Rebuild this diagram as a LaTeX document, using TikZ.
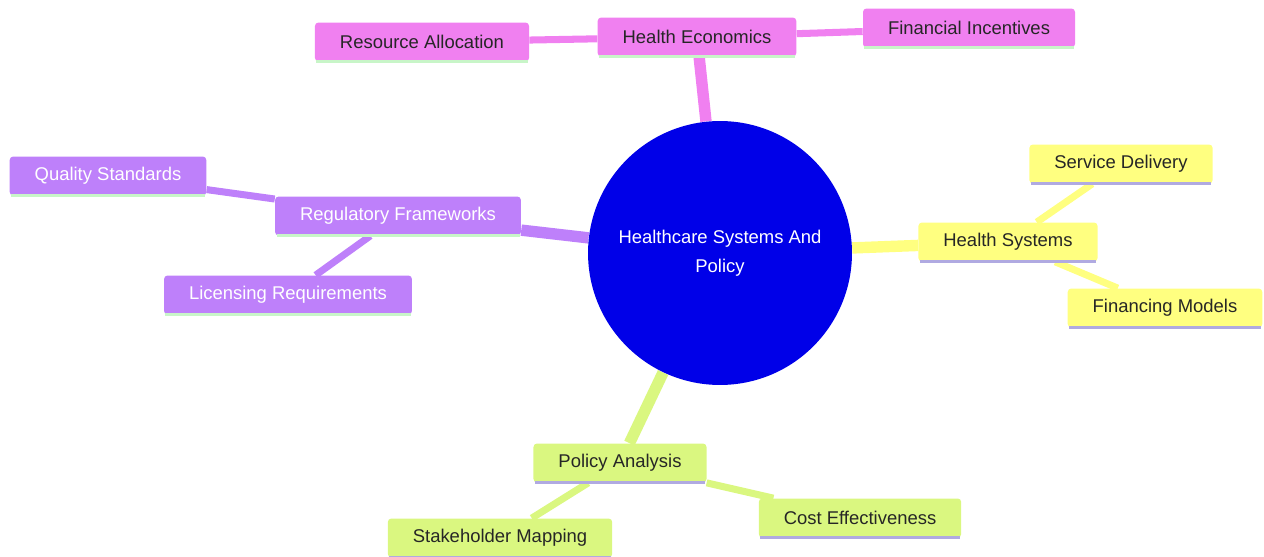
\documentclass[tikz,border=0pt]{standalone}
\usepackage{fontspec}
\setmainfont{Liberation Sans}
\usepackage{xcolor}
\usepackage{tikz}
\usetikzlibrary{backgrounds}
\definecolor{econpink}{RGB}{240,128,240}
\definecolor{regpurple}{RGB}{190,128,250}
\definecolor{sysyellow}{RGB}{255,255,128}
\definecolor{policygreen}{RGB}{218,247,128}
\definecolor{rootblue}{RGB}{0,0,232}
\definecolor{mintline}{RGB}{200,245,200}
\definecolor{lavline}{RGB}{176,170,225}
\tikzset{
    topic/.style={rectangle, rounded corners=2pt, minimum height=0.78cm, inner xsep=0.5cm, text centered, font=\fontsize{10.5}{12.6}\selectfont},
    root/.style={circle, fill=rootblue, minimum size=5.28cm, text=white, align=center, font=\fontsize{10.5}{16.5}\selectfont},
    branch/.style={line width=6.5pt},
    twig/.style={line width=4pt},
    underline/.style={line width=1.6pt}
}

\begin{document}
\begin{tikzpicture}[
    x=0.02cm, y=-0.02cm,
    econ/.style={topic, fill=econpink, text=black!85},
    reg/.style={topic, fill=regpurple, text=white},
    sys/.style={topic, fill=sysyellow, text=black!85},
    policy/.style={topic, fill=policygreen, text=black!85}
]
    \useasboundingbox (0,0) rectangle (1264,557);

    % Central topic
    \node[root] (root) at (720,253) {Healthcare Systems And\\Policy};

    % Health economics branch
    \node[econ] (econ) at (697,37) {Health Economics};
    \node[econ] (alloc) at (422,42) {Resource Allocation};
    \node[econ] (incent) at (969,28) {Financial Incentives};

    % Regulatory branch
    \node[reg] (regul) at (398,216) {Regulatory Frameworks};
    \node[reg] (quality) at (108,176) {Quality Standards};
    \node[reg] (licens) at (288,295) {Licensing Requirements};

    % Health systems branch
    \node[sys] (systems) at (1008,242) {Health Systems};
    \node[sys] (service) at (1121,164) {Service Delivery};
    \node[sys] (financ) at (1165,308) {Financing Models};

    % Policy analysis branch
    \node[policy] (analysis) at (620,463) {Policy Analysis};
    \node[policy] (stake) at (500,538) {Stakeholder Mapping};
    \node[policy] (cost) at (860,518) {Cost Effectiveness};

    % Connectors behind the nodes
    \begin{pgfonlayer}{background}
        \draw[branch, econpink] (root) -- (econ);
        \draw[twig, econpink] (econ) -- (alloc);
        \draw[twig, econpink] (econ) -- (incent);
        \draw[branch, regpurple] (root) -- (regul);
        \draw[twig, regpurple] (regul) -- (quality);
        \draw[twig, regpurple] (regul) -- (licens);
        \draw[branch, sysyellow] (root) -- (systems);
        \draw[twig, sysyellow] (systems) -- (service);
        \draw[twig, sysyellow] (systems) -- (financ);
        \draw[branch, policygreen] (root) -- (analysis);
        \draw[twig, policygreen] (analysis) -- (stake);
        \draw[twig, policygreen] (analysis) -- (cost);
    \end{pgfonlayer}

    % Bottom edges of the boxes
    \foreach \n/\c in {econ/mintline, alloc/mintline, incent/mintline,
                       regul/mintline, quality/mintline, licens/mintline,
                       systems/lavline, service/lavline, financ/lavline,
                       analysis/lavline, stake/lavline, cost/lavline}
        \draw[underline, \c] ([xshift=1pt]\n.south west) -- ([xshift=-1pt]\n.south east);
\end{tikzpicture}
\end{document}
